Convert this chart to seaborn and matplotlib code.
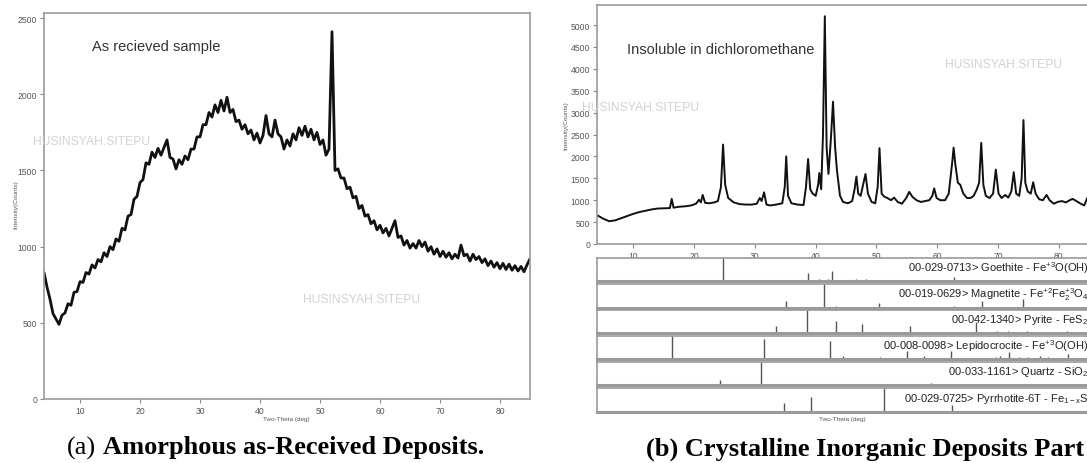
import numpy as np
import matplotlib
matplotlib.use("Agg")
import matplotlib.pyplot as plt
from matplotlib.ticker import MultipleLocator
import seaborn as sns

# ---------------- data ----------------
# (a) as-received sample, two-theta from 4.0 to 85.0 in 0.5 deg steps
left_start, left_step = 4.0, 0.5
left_counts = [
    830, 735, 655, 560, 525, 490, 550, 565, 625, 615,
    700, 705, 770, 765, 830, 820, 880, 860, 915, 900,
    960, 935, 1000, 980, 1050, 1035, 1120, 1110, 1200, 1210,
    1310, 1330, 1420, 1440, 1550, 1540, 1620, 1585, 1645, 1600,
    1650, 1700, 1585, 1575, 1510, 1570, 1540, 1595, 1570, 1640,
    1640, 1720, 1720, 1800, 1800, 1880, 1850, 1930, 1880, 1960,
    1890, 1980, 1880, 1900, 1820, 1830, 1770, 1800, 1740, 1765,
    1700, 1745, 1680, 1730, 1860, 1740, 1720, 1830, 1740, 1720,
    1640, 1700, 1660, 1740, 1700, 1780, 1730, 1790, 1720, 1770,
    1700, 1750, 1670, 1700, 1600, 1640, 2410, 1500, 1510, 1450,
    1450, 1380, 1390, 1320, 1330, 1250, 1270, 1200, 1210, 1150,
    1170, 1110, 1140, 1090, 1120, 1070, 1120, 1170, 1060, 1070,
    1010, 1040, 990, 1020, 990, 1040, 1000, 1030, 970, 1000,
    950, 985, 935, 970, 930, 960, 920, 950, 925, 1010,
    940, 950, 905, 950, 915, 935, 895, 920, 875, 905,
    865, 895, 855, 890, 850, 885, 845, 875, 840, 870,
    835, 880, 920,
]
left_theta = left_start + left_step * np.arange(len(left_counts))

# (b) insoluble in dichloromethane
right_theta = [
    4.0, 5.0, 6.0, 7.0, 8.0, 9.0, 10.0, 11.0, 12.0, 13.0, 14.0, 15.0, 16.0, 16.3, 16.6,
    17.5, 18.5, 19.5, 20.3, 20.8, 21.1, 21.4, 21.8, 22.5, 23.3, 23.9, 24.4, 24.75, 25.1,
    25.6, 26.5, 27.5, 28.5, 29.5, 30.3, 30.8, 31.1, 31.5, 31.9, 32.5, 33.5, 34.5, 34.9,
    35.15, 35.45, 36.0, 37.0, 38.0, 38.4, 38.75, 39.1, 39.5, 40.0, 40.4, 40.6, 40.9,
    41.2, 41.5, 41.8, 42.1, 42.5, 42.85, 43.2, 43.5, 44.0, 44.5, 45.3, 46.0, 46.4, 46.7,
    47.0, 47.4, 47.8, 48.2, 48.6, 49.2, 49.8, 50.2, 50.5, 50.85, 51.3, 51.8, 52.4, 52.9,
    53.5, 54.2, 54.9, 55.4, 55.9, 56.6, 57.3, 58.0, 58.7, 59.2, 59.5, 59.9, 60.5, 61.3,
    61.9, 62.5, 62.7, 63.0, 63.4, 63.8, 64.3, 64.9, 65.5, 66.0, 66.5, 66.9, 67.25, 67.6,
    68.0, 68.6, 69.2, 69.65, 70.1, 70.6, 71.2, 71.7, 72.2, 72.6, 73.0, 73.5, 73.9, 74.2,
    74.5, 74.9, 75.4, 75.8, 76.2, 76.8, 77.4, 78.0, 78.5, 79.2, 79.8, 80.5, 81.2, 81.8,
    82.3, 82.8, 83.5, 84.2, 84.7, 85.0,
]
right_counts = [
    660, 580, 520, 540, 590, 640, 690, 730, 760, 790, 810, 815, 820, 1030, 830,
    850, 860, 880, 920, 1010, 950, 1120, 940, 930, 950, 980, 1300, 2270, 1350,
    1050, 950, 910, 900, 900, 920, 1050, 980, 1180, 900, 880, 900, 930, 1300,
    2000, 1100, 930, 900, 890, 1300, 1940, 1250, 1150, 1100, 1350, 1620, 1250,
    2500, 5200, 2200, 1600, 2400, 3250, 2200, 1680, 1100, 960, 930, 980, 1250, 1540,
    1150, 1100, 1350, 1600, 1150, 960, 930, 1300, 2190, 1150, 1080, 1050, 1000, 1060,
    960, 920, 1050, 1190, 1080, 1000, 960, 980, 1000, 1100, 1270, 1050, 1000, 1000,
    1150, 1900, 2200, 1800, 1400, 1350, 1150, 1050, 1050, 1100, 1240, 1400, 2310, 1350,
    1100, 1050, 1150, 1700, 1150, 1050, 1120, 1060, 1200, 1640, 1150, 1100, 1500, 2830,
    1400, 1200, 1150, 1410, 1150, 1020, 1000, 1120, 1000, 920, 960, 980, 950, 1000,
    1030, 990, 930, 880, 1050, 980,
]

# reference patterns (position in deg, relative intensity in %)
phase_labels = [
    r"00-029-0713> Goethite - Fe$^{+3}$O(OH)",
    r"00-019-0629> Magnetite - Fe$^{+2}$Fe$_{2}^{+3}$O$_{4}$",
    r"00-042-1340> Pyrite - FeS$_{2}$",
    r"00-008-0098> Lepidocrocite - Fe$^{+3}$O(OH)",
    r"00-033-1161> Quartz - SiO$_{2}$",
    r"00-029-0725> Pyrrhotite-6T - Fe$_{1-x}$S",
]
goethite_pos = [20.7, 24.7, 30.7, 38.7, 40.6, 42.1, 42.7, 46.7, 48.2, 55.5, 59.5, 62.7,
                64.1, 67.3, 69.9, 72.6, 74.2, 75.9, 79.6, 81.9]
goethite_int = [6, 100, 5, 33, 10, 8, 44, 10, 10, 5, 4, 18, 4, 5, 5, 4, 5, 4, 4, 4]
magnetite_pos = [21.2, 35.1, 41.3, 43.3, 50.5, 57.2, 62.8, 67.3, 72.5, 74.2, 78.0, 82.5]
magnetite_int = [5, 30, 100, 8, 21, 4, 8, 30, 6, 38, 4, 4]
pyrite_pos = [33.4, 38.5, 43.3, 47.6, 55.6, 66.4, 69.8, 71.6, 74.7, 81.3]
pyrite_int = [30, 100, 53, 39, 30, 46, 8, 8, 10, 8]
lepido_pos = [16.3, 31.5, 35.1, 42.4, 44.5, 50.6, 55.0, 57.8, 62.2, 69.6, 70.4, 71.9,
              73.4, 75.0, 77.0, 78.2, 81.5]
lepido_int = [100, 88, 5, 78, 15, 10, 35, 12, 35, 10, 15, 30, 8, 8, 12, 10, 20]
quartz_pos = [24.2, 31.0, 42.6, 46.0, 49.7, 58.9, 66.4, 70.9, 79.6, 81.4]
quartz_int = [22, 100, 4, 4, 4, 8, 4, 4, 5, 4]
pyrrh_pos = [17.9, 34.8, 36.3, 39.3, 51.2, 62.5, 67.1, 76.4]
pyrrh_int = [3, 37, 3, 64, 100, 30, 3, 5]

phase_pos = [goethite_pos, magnetite_pos, pyrite_pos, lepido_pos, quartz_pos, pyrrh_pos]
phase_int = [goethite_int, magnetite_int, pyrite_int, lepido_int, quartz_int, pyrrh_int]

# ---------------- style ----------------
sns.set_theme(style="white")
plt.rcParams["font.family"] = ["Liberation Sans", "DejaVu Sans"]
plt.rcParams["mathtext.fontset"] = "custom"
plt.rcParams["mathtext.rm"] = "Liberation Sans"
plt.rcParams["mathtext.it"] = "Liberation Sans"
plt.rcParams["mathtext.default"] = "regular"

W, H = 1087, 464
fig = plt.figure(figsize=(W / 100, H / 100), dpi=100)
fig.patch.set_facecolor("white")


def px_axes(l, t, r, b):
    return fig.add_axes([l / W, 1 - b / H, (r - l) / W, (b - t) / H])


SPINE = "#9a9a9a"
TICKC = "#555555"


def style_axes(ax):
    for s in ax.spines.values():
        s.set_color(SPINE)
        s.set_linewidth(1.2)
    ax.tick_params(which="major", direction="out", length=3, width=0.8, color="#8a8a8a",
                   labelsize=6.2, labelcolor=TICKC, pad=2)
    ax.tick_params(which="minor", direction="out", length=1.6, width=0.7, color="#8a8a8a")
    ax.tick_params(axis="x", bottom=True, top=False)
    ax.tick_params(axis="y", left=True, right=False)
    ax.xaxis.set_major_locator(MultipleLocator(10))
    ax.xaxis.set_minor_locator(MultipleLocator(2))
    ax.set_facecolor("white")


# ---------------- panel (a) ----------------
axL = px_axes(44, 14, 530, 400)
sns.lineplot(x=left_theta, y=left_counts, ax=axL, color="#111111", linewidth=2.0,
             estimator=None)
axL.set_xlim(4, 85)
axL.set_ylim(0, 2533)
style_axes(axL)
axL.yaxis.set_major_locator(MultipleLocator(500))
axL.yaxis.set_minor_locator(MultipleLocator(100))
axL.set_xlabel("")
axL.set_ylabel("")
axL.text(12.0, 2316, "As recieved sample", fontsize=10.5, color="#333333",
         ha="left", va="center")
fig.text(15.5 / W, 1 - 205 / H, "Intensity(Counts)", rotation=90, fontsize=4.6,
         color="#555555", ha="center", va="center")
fig.text(286 / W, 1 - 420 / H, "Two-Theta (deg)", fontsize=4.6, color="#555555",
         ha="center", va="center")

# ---------------- panel (b) ----------------
px_per_deg = 6.075
right_px = 597 + (85.5 - 4) * px_per_deg
axR = px_axes(597, 6, right_px, 245)
sns.lineplot(x=right_theta, y=right_counts, ax=axR, color="#111111", linewidth=1.4,
             estimator=None)
axR.set_xlim(4, 85.5)
axR.set_ylim(0, 5457)
style_axes(axR)
axR.yaxis.set_major_locator(MultipleLocator(500))
axR.yaxis.set_minor_locator(MultipleLocator(100))
axR.set_xlabel("")
axR.set_ylabel("")
axR.text(8.86, 4452, "Insoluble in dichloromethane", fontsize=10.5, color="#333333",
         ha="left", va="center")
fig.text(566 / W, 1 - 126 / H, "Intensity(Counts)", rotation=90, fontsize=4.6,
         color="#555555", ha="center", va="center")

strip_rows = [(259, 282), (285, 309), (311, 334), (337, 360), (363, 386), (389, 413)]
for (t, b), label, pos, inten in zip(strip_rows, phase_labels, phase_pos, phase_int):
    axs = px_axes(597, t, right_px, b)
    axs.vlines(pos, 0, inten, colors="#555555", linewidth=1.0)
    axs.set_xlim(4, 85.5)
    axs.set_ylim(0, 100)
    axs.set_xticks([])
    axs.set_yticks([])
    for s in axs.spines.values():
        s.set_color(SPINE)
        s.set_linewidth(1.2)
    axs.spines["bottom"].set_linewidth(2.2)
    axs.text(84.9, 60, label, fontsize=8, color="#222222", ha="right", va="center")

fig.text(842 / W, 1 - 420 / H, "Two-Theta (deg)", fontsize=4.6, color="#555555",
         ha="center", va="center")

# ---------------- watermarks ----------------
for (x, y) in [(33, 142), (303, 300), (945, 65.5), (582, 108)]:
    fig.text(x / W, 1 - y / H, "HUSINSYAH.SITEPU", fontsize=8.7, color="#d2d2d2",
             ha="left", va="center")

# ---------------- captions ----------------
cap_font = ["Liberation Serif", "DejaVu Serif"]
fig.text(67 / W, 1 - 448 / H, "(a)", fontsize=19, family=cap_font, ha="left",
         va="center", color="black")
fig.text(103 / W, 1 - 448 / H, "Amorphous as-Received Deposits.", fontsize=19,
         family=cap_font, weight="bold", ha="left", va="center", color="black")
fig.text(646 / W, 1 - 449 / H, "(b) Crystalline Inorganic Deposits Part", fontsize=19,
         family=cap_font, weight="bold", ha="left", va="center", color="black")

fig.savefig("out.png", dpi=100, facecolor="white")
